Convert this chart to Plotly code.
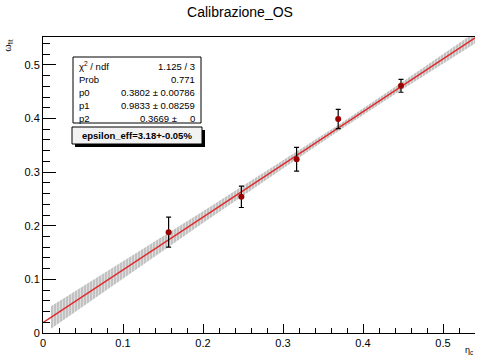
import plotly.graph_objects as go

# data points (eta_c, omega_fit, error)
x_pts = [0.157, 0.248, 0.317, 0.369, 0.4475]
y_pts = [0.188, 0.254, 0.324, 0.399, 0.461]
y_err = [0.028, 0.020, 0.022, 0.018, 0.012]

# fit line endpoints
fit_x = [0.0, 0.54]
fit_y = [0.0194, 0.5504]

# confidence band
band_x = [0.01, 0.1, 0.2, 0.3, 0.37, 0.45, 0.54]
band_lo = [0.008, 0.102, 0.205, 0.307, 0.377, 0.455, 0.540]
band_hi = [0.050, 0.134, 0.227, 0.322, 0.389, 0.469, 0.561]

stats_labels = ["χ<sup>2</sup> / ndf", "Prob", "p0", "p1", "p2"]
stats_values = ["1.125 / 3", "0.771", "0.3802 ± 0.00786", "0.9833 ± 0.08259", "0.3669 ±     0"]
eps_text = "epsilon_eff=3.18+-0.05%"

FONT = "Liberation Sans, Arial, sans-serif"

fig = go.Figure()

fig.add_trace(go.Scatter(
    x=band_x + band_x[::-1], y=band_hi + band_lo[::-1],
    mode="lines", line=dict(width=0), fill="toself",
    fillcolor="rgba(0,0,0,0)",
    fillpattern=dict(shape="|", fgcolor="white", bgcolor="#c2c2c2", size=3, solidity=0.3),
    hoverinfo="skip", showlegend=False))

fig.add_trace(go.Scatter(
    x=fit_x, y=fit_y, mode="lines",
    line=dict(color="#e0282a", width=1.3), showlegend=False))

fig.add_trace(go.Scatter(
    x=x_pts, y=y_pts, mode="markers",
    marker=dict(color="#9b0000", size=6),
    error_y=dict(type="data", array=y_err, color="black", thickness=1.2, width=2.5),
    showlegend=False))

fig.update_layout(
    width=480, height=359,
    margin=dict(l=43, r=5, t=37, b=26),
    paper_bgcolor="white", plot_bgcolor="white",
    font=dict(family=FONT, color="black"),
    title=dict(text="Calibrazione_OS", x=0.5, xanchor="center", y=0.965, yanchor="middle",
               font=dict(size=14, family=FONT)),
    xaxis=dict(range=[0, 0.54], showgrid=False, zeroline=False,
               showline=True, linecolor="black", linewidth=1, mirror=True,
               ticks="inside", ticklen=9, tickcolor="black", tickwidth=1,
               tickvals=[0, 0.1, 0.2, 0.3, 0.4, 0.5],
               ticktext=["0", "0.1", "0.2", "0.3", "0.4", "0.5"],
               tickfont=dict(size=11),
               minor=dict(ticks="inside", ticklen=5, dtick=0.02, tick0=0, tickcolor="black", showgrid=False)),
    yaxis=dict(range=[0, 0.552], showgrid=False, zeroline=False,
               showline=True, linecolor="black", linewidth=1, mirror=False,
               ticks="inside", ticklen=13, tickcolor="black", tickwidth=1,
               tickvals=[0, 0.1, 0.2, 0.3, 0.4, 0.5],
               ticktext=["0", "0.1", "0.2", "0.3", "0.4", "0.5"],
               tickfont=dict(size=11),
               minor=dict(ticks="inside", ticklen=7, dtick=0.02, tick0=0, tickcolor="black", showgrid=False)),
)

# axis titles
fig.add_annotation(text="ω<sub>fit</sub>", xref="paper", yref="paper", x=-0.08, y=1.0,
                   xanchor="center", yanchor="top", textangle=-90, showarrow=False,
                   font=dict(size=9, family=FONT))
fig.add_annotation(text="η<sub>c</sub>", xref="paper", yref="paper", x=1.0, y=-0.035,
                   xanchor="right", yanchor="top", showarrow=False,
                   font=dict(size=9, family=FONT))

# stats box (pixel -> paper conversion)
PW, PH, L, T = 480 - 43 - 5, 359 - 37 - 26, 43, 37
def px(x):
    return (x - L) / PW
def py(y):
    return 1 - (y - T) / PH

fig.add_shape(type="rect", xref="paper", yref="paper",
              x0=px(73), x1=px(201), y0=py(57), y1=py(123),
              line=dict(color="black", width=1), fillcolor="white", layer="above")
rows_y = [66, 79.5, 92.5, 105.5, 118]
for lab, val, ry in zip(stats_labels, stats_values, rows_y):
    fig.add_annotation(text=lab, xref="paper", yref="paper", x=px(77), y=py(ry),
                       xanchor="left", yanchor="middle", showarrow=False,
                       font=dict(size=9.5, family=FONT))
    fig.add_annotation(text=val, xref="paper", yref="paper", x=px(197), y=py(ry),
                       xanchor="right", yanchor="middle", showarrow=False,
                       font=dict(size=9.5, family=FONT))

# epsilon box with shadow
fig.add_shape(type="rect", xref="paper", yref="paper",
              x0=px(75), x1=px(205), y0=py(130), y1=py(147),
              line=dict(color="black", width=0), fillcolor="black", layer="above")
fig.add_shape(type="rect", xref="paper", yref="paper",
              x0=px(72), x1=px(202), y0=py(127), y1=py(144),
              line=dict(color="black", width=1), fillcolor="#f2f2f2", layer="above")
fig.add_annotation(text="<b>" + eps_text + "</b>", xref="paper", yref="paper",
                   x=px(137), y=py(135.5), xanchor="center", yanchor="middle", showarrow=False,
                   font=dict(size=9.5, family=FONT))

fig.write_html("out.html")
